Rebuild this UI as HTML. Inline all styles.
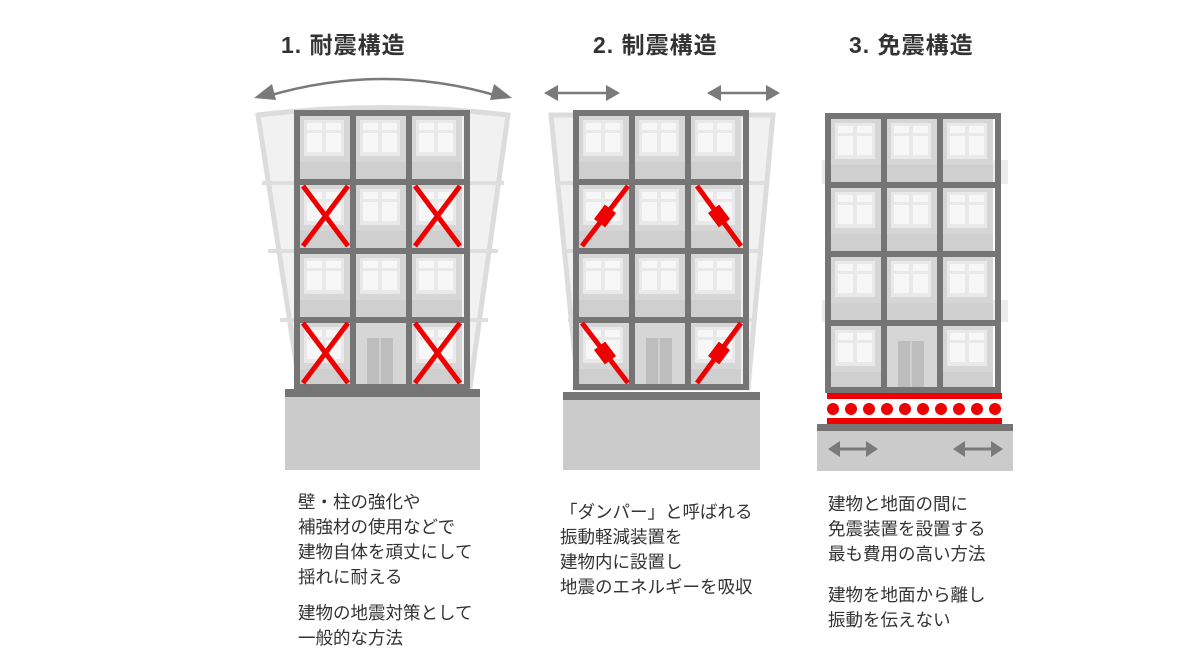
<!DOCTYPE html>
<html><head><meta charset="utf-8"><style>
body{margin:0;background:#fff;width:1200px;height:630px;overflow:hidden;font-family:"Liberation Sans","Noto Sans CJK JP",sans-serif}
.t{position:absolute;font-size:17.5px;line-height:25px;color:#333}
</style></head><body>
<svg width="1200" height="630" style="position:absolute;left:0;top:0">
<defs>
<g id="c">
<rect x="0" y="0" width="52" height="65" fill="#d6d6d6"/>
<rect x="6" y="6" width="40" height="36" fill="#e9e9e9"/>
<rect x="9" y="9" width="15" height="7" fill="#f7f7f7"/><rect x="28" y="9" width="15" height="7" fill="#f7f7f7"/>
<rect x="9" y="19" width="15" height="19" fill="#f7f7f7"/><rect x="28" y="19" width="15" height="19" fill="#f7f7f7"/>
<rect x="0" y="48" width="52" height="17" fill="#cfcfcf"/>
</g>
<g id="d">
<rect x="0" y="0" width="52" height="65" fill="#d6d6d6"/>
<rect x="13" y="17" width="26" height="48" fill="#bdbdbd"/>
<line x1="26" y1="17" x2="26" y2="65" stroke="#cfcfcf" stroke-width="2"/>
</g>
<g id="grid">
<use href="#c" x="4" y="4"/><use href="#c" x="60" y="4"/><use href="#c" x="116" y="4"/>
<use href="#c" x="4" y="73"/><use href="#c" x="60" y="73"/><use href="#c" x="116" y="73"/>
<use href="#c" x="4" y="142"/><use href="#c" x="60" y="142"/><use href="#c" x="116" y="142"/>
<use href="#c" x="4" y="211"/><use href="#d" x="60" y="211"/><use href="#c" x="116" y="211"/>
<g fill="none" stroke="#757575" stroke-width="6">
<rect x="3" y="3" width="170" height="274"/>
<line x1="59" y1="3" x2="59" y2="277"/><line x1="115" y1="3" x2="115" y2="277"/>
<line x1="3" y1="72" x2="173" y2="72"/><line x1="3" y1="141" x2="173" y2="141"/><line x1="3" y1="210" x2="173" y2="210"/>
</g>
</g>
</defs>

<g font-family="Liberation Sans,Noto Sans CJK JP,sans-serif" font-weight="bold" font-size="23" fill="#333" letter-spacing="1">
<text x="281" y="53">1. 耐震構造</text>
<text x="593" y="53">2. 制震構造</text>
<text x="849" y="53">3. 免震構造</text>
</g>

<!-- Building 1 -->
<path d="M258,115 Q383,100 508,115 L470,388 L300,388 Z" fill="#f1f1f1" stroke="#dcdcdc" stroke-width="5"/>
<g stroke="#dedede" stroke-width="4" fill="none">
<line x1="262" y1="183" x2="298" y2="183"/><line x1="268" y1="251" x2="298" y2="251"/><line x1="280" y1="320" x2="298" y2="320"/>
<line x1="468" y1="183" x2="504" y2="183"/><line x1="468" y1="251" x2="498" y2="251"/><line x1="468" y1="320" x2="488" y2="320"/>
</g>
<path d="M268,96 Q383,62 498,96" fill="none" stroke="#7a7a7a" stroke-width="2.5"/>
<path d="M254,98 L272,84 L276,100 Z" fill="#7a7a7a"/><path d="M512,98 L494,84 L490,100 Z" fill="#7a7a7a"/>
<use href="#grid" x="294" y="110"/>
<g stroke="#e00" stroke-width="5">
<line x1="303" y1="186" x2="348" y2="246"/><line x1="348" y1="186" x2="303" y2="246"/>
<line x1="415" y1="186" x2="460" y2="246"/><line x1="460" y1="186" x2="415" y2="246"/>
<line x1="303" y1="323" x2="348" y2="383"/><line x1="348" y1="323" x2="303" y2="383"/>
<line x1="415" y1="323" x2="460" y2="383"/><line x1="460" y1="323" x2="415" y2="383"/>
</g>
<rect x="285" y="389" width="195" height="8" fill="#757575"/>
<rect x="285" y="397" width="195" height="73" fill="#cbcbcb"/>

<!-- Building 2 -->
<path d="M551,115 L773,115 L748,388 L578,388 Z" fill="#f1f1f1" stroke="#dcdcdc" stroke-width="5"/>
<g stroke="#dedede" stroke-width="4" fill="none">
<line x1="556" y1="183" x2="578" y2="183"/><line x1="562" y1="251" x2="578" y2="251"/><line x1="568" y1="320" x2="578" y2="320"/>
<line x1="746" y1="183" x2="768" y2="183"/><line x1="746" y1="251" x2="762" y2="251"/><line x1="746" y1="320" x2="756" y2="320"/>
</g>
<line x1="550" y1="93" x2="614" y2="93" stroke="#7a7a7a" stroke-width="2.5"/>
<path d="M544,93 L558,85 L558,101Z M620,93 L606,85 L606,101Z" fill="#7a7a7a"/>
<line x1="714" y1="93" x2="774" y2="93" stroke="#7a7a7a" stroke-width="2.5"/>
<path d="M707,93 L721,85 L721,101Z M780,93 L766,85 L766,101Z" fill="#7a7a7a"/>
<use href="#grid" x="573" y="110"/>
<g stroke="#e00" stroke-width="5">
<line x1="582" y1="246" x2="628" y2="186"/><line x1="697" y1="186" x2="741" y2="246"/>
<line x1="582" y1="323" x2="628" y2="383"/><line x1="741" y1="323" x2="697" y2="383"/>
</g>
<g fill="#e00">
<rect x="-9" y="-7" width="18" height="14" transform="translate(605,216) rotate(-53)"/>
<rect x="-9" y="-7" width="18" height="14" transform="translate(719,216) rotate(53)"/>
<rect x="-9" y="-7" width="18" height="14" transform="translate(605,353) rotate(53)"/>
<rect x="-9" y="-7" width="18" height="14" transform="translate(719,353) rotate(-53)"/>
</g>
<rect x="563" y="392" width="197" height="8" fill="#757575"/>
<rect x="563" y="400" width="197" height="70" fill="#cbcbcb"/>

<!-- Building 3 -->
<rect x="822" y="160" width="186" height="24" fill="#ececec"/>
<rect x="822" y="300" width="186" height="22" fill="#ececec"/>
<use href="#grid" x="825" y="110" transform="translate(0,3)"/>
<rect x="827" y="393" width="175" height="6" fill="#e00"/>
<rect x="827" y="418" width="175" height="6" fill="#e00"/>
<g fill="#e00">
<circle cx="833" cy="409" r="6"/><circle cx="851" cy="409" r="6"/><circle cx="869" cy="409" r="6"/><circle cx="887" cy="409" r="6"/><circle cx="905" cy="409" r="6"/><circle cx="923" cy="409" r="6"/><circle cx="941" cy="409" r="6"/><circle cx="959" cy="409" r="6"/><circle cx="977" cy="409" r="6"/><circle cx="995" cy="409" r="6"/>
</g>
<rect x="817" y="424" width="196" height="7" fill="#757575"/>
<rect x="817" y="431" width="196" height="40" fill="#cbcbcb"/>
<line x1="836" y1="449" x2="870" y2="449" stroke="#7a7a7a" stroke-width="3"/>
<path d="M828,449 L840,441 L840,457Z M878,449 L866,441 L866,457Z" fill="#7a7a7a"/>
<line x1="961" y1="449" x2="995" y2="449" stroke="#7a7a7a" stroke-width="3"/>
<path d="M953,449 L965,441 L965,457Z M1003,449 L991,441 L991,457Z" fill="#7a7a7a"/>
</svg>

<div class="t" style="left:298px;top:490px">壁・柱の強化や<br>補強材の使用などで<br>建物自体を頑丈にして<br>揺れに耐える</div>
<div class="t" style="left:298px;top:601px">建物の地震対策として<br>一般的な方法</div>
<div class="t" style="left:560px;top:500px">「ダンパー」と呼ばれる<br>振動軽減装置を<br>建物内に設置し<br>地震のエネルギーを吸収</div>
<div class="t" style="left:828px;top:492px">建物と地面の間に<br>免震装置を設置する<br>最も費用の高い方法</div>
<div class="t" style="left:828px;top:583px">建物を地面から離し<br>振動を伝えない</div>
</body></html>
